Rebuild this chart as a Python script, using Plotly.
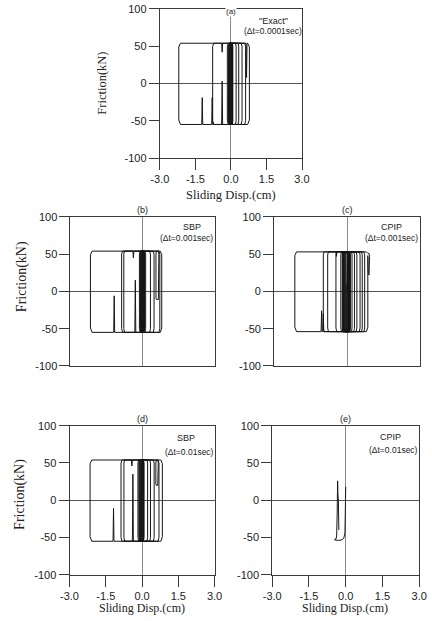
import plotly.graph_objects as go

# ---------------- data ----------------
x_tick_vals = [-3.0, -1.5, 0.0, 1.5, 3.0]
x_tick_text = ["-3.0", "-1.5", "0.0", "1.5", "3.0"]
y_tick_vals = [-100, -50, 0, 50, 100]
y_tick_text = ["-100", "-50", "0", "50", "100"]

panel_letters = ["(a)", "(b)", "(c)", "(d)", "(e)"]
panel_methods = ['"Exact"', "SBP", "CPIP", "SBP", "CPIP"]
panel_steps = ["(\u0394t=0.0001sec)", "(\u0394t=0.001sec)", "(\u0394t=0.001sec)",
               "(\u0394t=0.01sec)", "(\u0394t=0.01sec)"]

# (a) "Exact"  dt=0.0001 sec
a_disp = [
    0.00, 0.00, 0.03, 0.30, 0.33, 0.33, 0.30,
    -0.35, -0.37, -0.39, -0.77, -0.79, -0.81, -1.19, -1.21, -1.23, -2.13, -2.20, -2.20, -2.13,
    -0.39, -0.37, -0.35, 0.64, 0.66, 0.68, 0.71, 0.78, 0.78, 0.71,
    -0.72, -0.77, -0.77, -0.72,
    0.58, 0.62, 0.62, 0.58,
    -0.11, -0.15, -0.15, -0.11,
    0.43, 0.47, 0.47, 0.43,
    -0.08, -0.11, -0.11, -0.08,
    0.19, 0.22, 0.22, 0.19,
    -0.06, -0.08, -0.08, -0.06,
    0.06, 0.08, 0.08, 0.06,
    -0.03, -0.05, -0.05, -0.03,
    0.04, 0.06, 0.06, 0.04,
    -0.07, -0.09, -0.09, -0.07,
    0.02, 0.04, 0.04, 0.02,
    0.01, -0.01, -0.01, 0.01,
    0.05, 0.07, 0.07, 0.05,
    -0.05, -0.07, -0.07, -0.05,
    0.00, 0.02, 0.02, 0.00,
    -0.01, -0.03, -0.03, -0.01,
    0.03, 0.05, 0.05, 0.03,
    -0.02, -0.04, -0.04,
]
a_fric = [
    0, 50, 54, 54, 50, -50, -55,
    -55, 3, -55, -55, -19, -55, -55, -19, -55, -55, -49, 49, 54,
    54, 42, 54, 54, 8, 54, 54, 49, -49, -55,
    -55, -50, 50, 54,
    54, 50, -50, -55,
    -55, -50, 50, 54,
    54, 50, -50, -55,
    -55, -50, 50, 54,
    54, 50, -50, -55,
    -55, -50, 50, 54,
    54, 50, -50, -55,
    -55, -50, 50, 54,
    54, 50, -50, -55,
    -55, -50, 50, 54,
    54, 50, -50, -55,
    -55, -50, 50, 54,
    54, 50, -50, -55,
    -55, -50, 50, 54,
    54, 50, -50, -55,
    -55, -50, 50, 54,
    54, 50, -50, -55,
    -55, -50, 10,
]

# (b) SBP dt=0.001 sec
b_disp = [
    0.00, 0.00, 0.03, 0.30, 0.33, 0.33, 0.30,
    -0.28, -0.30, -0.32, -1.16, -1.18, -1.20, -2.10, -2.17, -2.17, -2.10,
    -0.40, -0.38, -0.36, 0.66, 0.68, 0.68, 0.66, 0.58, 0.56, 0.56, 0.58, 0.74, 0.80, 0.80, 0.74,
    -0.83, -0.87, -0.87, -0.83,
    0.68, 0.72, 0.72, 0.68,
    -0.75, -0.78, -0.78, -0.75,
    0.45, 0.48, 0.48, 0.45,
    -0.10, -0.13, -0.13, -0.10,
    0.10, 0.13, 0.13, 0.10,
    -0.07, -0.09, -0.09, -0.07,
    0.05, 0.07, 0.07, 0.05,
    -0.02, -0.04, -0.04, -0.02,
    0.06, 0.08, 0.08, 0.06,
    -0.06, -0.08, -0.08, -0.06,
    0.02, 0.04, 0.04, 0.02,
    0.02, 0.00, 0.00, 0.02,
    0.05, 0.07, 0.07, 0.05,
    -0.05, -0.07, -0.07, -0.05,
    0.00, 0.02, 0.02, 0.00,
    0.00, -0.02, -0.02, 0.00,
    0.03, 0.05, 0.05, 0.03,
    -0.03, -0.05, -0.05,
]
b_fric = [
    0, 50, 54, 54, 50, -50, -55,
    -55, 15, -55, -55, -6, -55, -55, -49, 49, 54,
    54, 45, 54, 54, 50, -9, -11, -11, -9, 50, 54, 54, 49, -49, -55,
    -55, -50, 50, 54,
    54, 50, -50, -55,
    -55, -50, 50, 54,
    54, 50, -50, -55,
    -55, -50, 50, 54,
    54, 50, -50, -55,
    -55, -50, 50, 54,
    54, 50, -50, -55,
    -55, -50, 50, 54,
    54, 50, -50, -55,
    -55, -50, 50, 54,
    54, 50, -50, -55,
    -55, -50, 50, 54,
    54, 50, -50, -55,
    -55, -50, 50, 54,
    54, 50, -50, -55,
    -55, -50, 50, 54,
    54, 50, -50, -55,
    -55, -50, 10,
]

# (c) CPIP dt=0.001 sec
c_disp = [
    0.00, 0.00, 0.03, 0.27, 0.30, 0.30, 0.27,
    -0.96, -0.98, -1.00, -1.03, -1.05, -1.07, -2.08, -2.15, -2.15, -2.08,
    -0.46, -0.44, -0.42, 0.79, 0.85, 0.90, 0.92, 0.92, 0.90, 0.87, 0.85, 0.85, 0.79,
    -0.95, -0.98, -0.98, -0.95,
    0.69, 0.72, 0.72, 0.69,
    -0.77, -0.80, -0.80, -0.77,
    0.59, 0.62, 0.62, 0.59,
    -0.43, -0.46, -0.46, -0.43,
    0.50, 0.53, 0.53, 0.50,
    -0.23, -0.26, -0.26, -0.23,
    0.37, 0.40, 0.40, 0.37,
    -0.18, -0.20, -0.20, -0.18,
    0.18, 0.20, 0.20, 0.18,
    -0.13, -0.15, -0.15, -0.13,
    0.11, 0.13, 0.13, 0.11,
    -0.10, -0.12, -0.12, -0.10,
    0.08, 0.10, 0.10, 0.08,
    -0.16, -0.18, -0.18, -0.16,
    0.04, 0.06, 0.06, 0.04,
    -0.06, -0.08, -0.08, -0.06,
    0.10, 0.12, 0.12, 0.10,
    -0.08, -0.10, -0.10, -0.08,
    0.02, 0.04, 0.04, 0.02,
    -0.03, -0.05, -0.05, -0.03,
    0.06, 0.08, 0.08, 0.06,
    -0.12, -0.14, -0.14, -0.12,
    0.00, 0.02, 0.02, 0.00,
    0.00, -0.02, -0.02, 0.00,
    0.09, 0.11, 0.11, 0.09,
    -0.14, -0.16, -0.16, -0.14,
    0.05, 0.07, 0.07, 0.05,
    -0.02, -0.04, -0.04,
]
c_fric = [
    0, 49, 53, 53, 49, -50, -54,
    -54, -30, -54, -54, -26, -54, -54, -48, 48, 53,
    53, 47, 53, 53, 51, 51, 47, 24, 22, 24, 48, -48, -54,
    -54, -49, 49, 53,
    53, 49, -49, -54,
    -54, -49, 49, 53,
    53, 49, -49, -54,
    -54, -49, 49, 53,
    53, 49, -49, -54,
    -54, -49, 49, 53,
    53, 49, -49, -54,
    -54, -49, 49, 53,
    53, 49, -49, -54,
    -54, -49, 49, 53,
    53, 49, -49, -54,
    -54, -49, 49, 53,
    53, 49, -49, -54,
    -54, -49, 49, 53,
    53, 49, -49, -54,
    -54, -49, 49, 53,
    53, 49, -49, -54,
    -54, -49, 49, 53,
    53, 49, -49, -54,
    -54, -49, 49, 53,
    53, 49, -49, -54,
    -54, -49, 49, 53,
    53, 49, -49, -54,
    -54, -49, 49, 53,
    53, 49, -49, -54,
    -54, -49, 49, 53,
    53, 49, -49, -54,
    -54, -49, 10,
]

# (d) SBP dt=0.01 sec
d_disp = [
    0.00, 0.00, 0.03, 0.32, 0.35, 0.35, 0.32,
    -0.36, -0.38, -0.40, -1.16, -1.18, -1.20, -2.08, -2.15, -2.15, -2.08,
    -0.44, -0.42, -0.40, 0.65, 0.67, 0.67, 0.65, 0.59, 0.57, 0.57, 0.59, 0.78, 0.84, 0.84, 0.78,
    -0.83, -0.87, -0.87, -0.83,
    0.66, 0.70, 0.70, 0.66,
    -0.72, -0.75, -0.75, -0.72,
    0.47, 0.50, 0.50, 0.47,
    -0.14, -0.17, -0.17, -0.14,
    0.20, 0.23, 0.23, 0.20,
    -0.10, -0.12, -0.12, -0.10,
    0.06, 0.08, 0.08, 0.06,
    -0.04, -0.06, -0.06, -0.04,
    0.04, 0.06, 0.06, 0.04,
    -0.10, -0.12, -0.12, -0.10,
    0.01, 0.03, 0.03, 0.01,
    0.00, -0.02, -0.02, 0.00,
    0.05, 0.07, 0.07, 0.05,
    -0.07, -0.09, -0.09, -0.07,
    -0.01, 0.01, 0.01, -0.01,
    -0.02, -0.04, -0.04, -0.02,
    0.03, 0.05, 0.05, 0.03,
    -0.06, -0.08, -0.08,
]
d_fric = [
    0, 50, 54, 54, 50, -50, -55,
    -55, 35, -55, -55, -11, -55, -55, -49, 49, 54,
    54, 46, 54, 54, 50, 22, 20, 20, 22, 50, 54, 54, 49, -49, -55,
    -55, -50, 50, 54,
    54, 50, -50, -55,
    -55, -50, 50, 54,
    54, 50, -50, -55,
    -55, -50, 50, 54,
    54, 50, -50, -55,
    -55, -50, 50, 54,
    54, 50, -50, -55,
    -55, -50, 50, 54,
    54, 50, -50, -55,
    -55, -50, 50, 54,
    54, 50, -50, -55,
    -55, -50, 50, 54,
    54, 50, -50, -55,
    -55, -50, 50, 54,
    54, 50, -50, -55,
    -55, -50, 50, 54,
    54, 50, -50, -55,
    -55, -50, 10,
]

# (e) CPIP dt=0.01 sec
e_disp = [0.00, 0.00, -0.01, -0.03, -0.08, -0.15, -0.30, -0.42, -0.46, -0.40,
          -0.37, -0.35, -0.34, -0.33, -0.32, -0.30, -0.29, -0.28]
e_fric = [18, 0, -30, -44, -51, -53, -54, -54, -53, -52,
          -48, -20, 0, 26, 10, 0, -20, -40]

# ---------------- figure ----------------
W, H = 432, 621
FONT = "Liberation Sans, Arial, sans-serif"
SERIF = "Liberation Serif, Times New Roman, serif"
INK = "#222222"
FRAME = "#3a3a3a"

series = [(a_disp, a_fric), (b_disp, b_fric), (c_disp, c_fric), (d_disp, d_fric), (e_disp, e_fric)]
for dx, dy in series:
    assert len(dx) == len(dy), (len(dx), len(dy))

# pixel boxes of each plot frame: left, right, top, bottom
boxes = [(157, 305, 3, 155), (64, 214, 215, 367), (276, 428, 215, 367),
         (63, 214, 428, 580), (274, 427, 428, 580)]
show_xticks = [True, False, False, True, True]


def px(x):
    return x / W


def py(y):
    return 1 - y / H


fig = go.Figure()
layout = dict(width=W, height=H, margin=dict(l=0, r=0, t=0, b=0),
              paper_bgcolor="white", plot_bgcolor="white", showlegend=False,
              font=dict(family=FONT, color=INK))
annotations = []

for i, ((dx, dy), (l, r, t, b), xt) in enumerate(zip(series, boxes, show_xticks)):
    n = "" if i == 0 else str(i + 1)
    fig.add_trace(go.Scatter(x=dx, y=dy, mode="lines", xaxis="x" + n, yaxis="y" + n,
                             line=dict(color="#161616", width=1), hoverinfo="skip"))
    layout["xaxis" + n] = dict(
        domain=[px(l), px(r)], range=[-3, 3], anchor="y" + n,
        showline=True, mirror=True, linecolor=FRAME, linewidth=1,
        showgrid=False, zeroline=True, zerolinecolor="#8a8a8a", zerolinewidth=1,
        tickmode="array", tickvals=x_tick_vals if xt else [], ticktext=x_tick_text if xt else [],
        ticks="outside" if xt else "", ticklen=11, tickwidth=1, tickcolor=FRAME,
        showticklabels=xt, tickfont=dict(family=FONT, size=11, color=INK),
    )
    layout["yaxis" + n] = dict(
        domain=[py(b), py(t)], range=[-100, 100], anchor="x" + n,
        showline=True, mirror=True, linecolor=FRAME, linewidth=1,
        showgrid=False, zeroline=True, zerolinecolor="#555555", zerolinewidth=1,
        tickmode="array", tickvals=y_tick_vals, ticktext=y_tick_text,
        ticks="outside", ticklen=10, tickwidth=1, tickcolor=FRAME,
        tickfont=dict(family=FONT, size=11, color=INK),
    )
    # panel letter above the frame centre (x = 0); (a) sits at the very top edge
    if i == 0:
        annotations.append(dict(text=panel_letters[i], x=0, xref="x" + n, y=1, yref="paper",
                                xanchor="center", yanchor="top", showarrow=False,
                                bgcolor="white", borderpad=0,
                                font=dict(family=FONT, size=8, color=INK)))
    else:
        annotations.append(dict(text=panel_letters[i], x=0, xref="x" + n, y=py(t), yref="paper",
                                xanchor="center", yanchor="bottom", showarrow=False,
                                font=dict(family=FONT, size=9, color=INK)))

# method / time step labels (pixel centres)
label_pos = [((275, 15), (275, 26)), ((190, 225), (185, 237)), ((398, 225), (398, 237)),
             ((184, 441), (188, 455)), ((397, 439), (400, 453))]
for i, ((mx, my), (sx, sy)) in enumerate(label_pos):
    annotations.append(dict(text=panel_methods[i], x=px(mx), y=py(my), xref="paper", yref="paper",
                            xanchor="center", yanchor="middle", showarrow=False,
                            font=dict(family=FONT, size=9, color=INK)))
    annotations.append(dict(text=panel_steps[i], x=px(sx), y=py(sy), xref="paper", yref="paper",
                            xanchor="center", yanchor="middle", showarrow=False,
                            font=dict(family=FONT, size=8.5, color=INK)))

# axis titles
for (x, y, s) in [(97, 79, 12.5), (13, 276, 14), (12, 498, 14)]:
    annotations.append(dict(text="Friction(kN)", x=px(x), y=py(y), xref="paper", yref="paper",
                            xanchor="center", yanchor="middle", textangle=-90, showarrow=False,
                            font=dict(family=SERIF, size=s, color=INK)))
for (x, y, s) in [(231, 193, 12.5), (138, 614, 12), (350, 614, 12)]:
    annotations.append(dict(text="Sliding Disp.(cm)", x=px(x), y=py(y), xref="paper", yref="paper",
                            xanchor="center", yanchor="middle", showarrow=False,
                            font=dict(family=SERIF, size=s, color=INK)))

layout["annotations"] = annotations
fig.update_layout(**layout)
fig.write_html("out.html")
